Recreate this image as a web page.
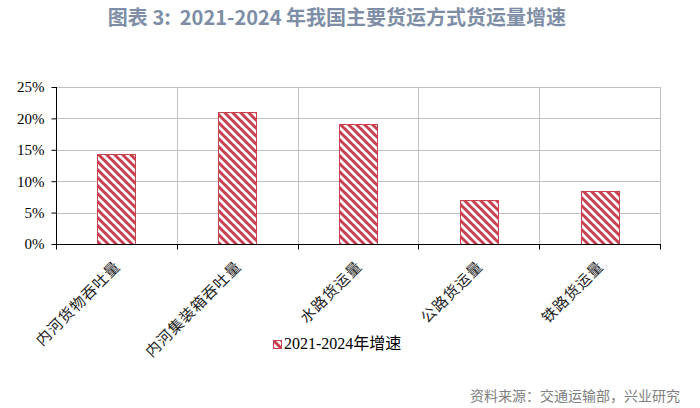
<!DOCTYPE html>
<html>
<head>
<meta charset="utf-8">
<script src="https://cdn.jsdelivr.net/npm/d3@7"></script>
<style>
  body { margin: 0; background: #fff; }
  svg { display: block; }
</style>
</head>
<body>
<div id="chart"></div>
<script>
const categories = ['内河货物吞吐量', '内河集装箱吞吐量', '水路货运量', '公路货运量', '铁路货运量'];
const growth = [0.144, 0.21, 0.191, 0.07, 0.084];
const yTicks = [0, 0.05, 0.1, 0.15, 0.2, 0.25];
const seriesName = '2021-2024年增速';

const width = 700;
const height = 408;
const margin = { left: 56, right: 40, top: 87, bottom: 164 };
const red = '#c9404f';
const serif = '"Liberation Serif", "Noto Sans CJK SC", serif';
const cjk = '"Noto Sans CJK SC", sans-serif';

const svg = d3
  .select('#chart')
  .append('svg')
  .attr('width', width)
  .attr('height', height);

// hatch pattern, like Excel's wide downward diagonal
const defs = svg.append('defs');
const pat = defs
  .append('pattern')
  .attr('id', 'hatch')
  .attr('patternUnits', 'userSpaceOnUse')
  .attr('width', 8)
  .attr('height', 8);
pat.append('rect').attr('width', 8).attr('height', 8).attr('fill', '#fff');
pat
  .append('path')
  .attr('d', 'M-2,-2 L10,10 M-6,2 L2,10 M6,-2 L10,2')
  .attr('stroke', red)
  .attr('stroke-width', 3);

const x = d3
  .scaleBand()
  .domain(categories)
  .range([margin.left, width - margin.right]);

const y = d3
  .scaleLinear()
  .domain([0, 0.25])
  .range([height - margin.bottom, margin.top]);

// horizontal grid
svg
  .append('g')
  .selectAll('line')
  .data(yTicks.slice(1))
  .enter()
  .append('line')
  .attr('x1', margin.left)
  .attr('x2', width - margin.right)
  .attr('y1', d => Math.round(y(d)) + 0.5)
  .attr('y2', d => Math.round(y(d)) + 0.5)
  .attr('stroke', '#c0c0c0')
  .attr('stroke-width', 1);

// vertical grid at category boundaries
svg
  .append('g')
  .selectAll('line')
  .data(categories)
  .enter()
  .append('line')
  .attr('x1', d => Math.round(x(d) + x.bandwidth()) + 0.5)
  .attr('x2', d => Math.round(x(d) + x.bandwidth()) + 0.5)
  .attr('y1', y(0.25))
  .attr('y2', y(0))
  .attr('stroke', '#c0c0c0')
  .attr('stroke-width', 1);

// bars
const barW = 38;
svg
  .append('g')
  .selectAll('rect')
  .data(growth)
  .enter()
  .append('rect')
  .attr('x', (d, i) => Math.round(x(categories[i]) + x.bandwidth() / 2 - barW / 2) + 0.5)
  .attr('y', d => Math.round(y(d)) + 0.5)
  .attr('width', barW)
  .attr('height', d => Math.round(y(0)) - Math.round(y(d)))
  .attr('fill', 'url(#hatch)')
  .attr('stroke', red)
  .attr('stroke-width', 1);

// y axis
const yAxis = svg
  .append('g')
  .attr('transform', 'translate(' + (margin.left + 0.5) + ',0)')
  .call(
    d3
      .axisLeft(y)
      .tickValues(yTicks)
      .tickFormat(d3.format('.0%'))
      .tickSize(5)
      .tickPadding(7)
  );
yAxis.select('.domain').attr('stroke', '#000').attr('d', 'M0,' + y(0.25) + 'V' + y(0));
yAxis.selectAll('.tick line').attr('stroke', '#000');
yAxis
  .selectAll('.tick text')
  .attr('fill', '#000')
  .style('font-family', serif)
  .style('font-size', '15px');

// x axis
const xAxis = svg
  .append('g')
  .attr('transform', 'translate(0,' + (Math.round(y(0)) + 0.5) + ')');
xAxis
  .append('line')
  .attr('x1', margin.left)
  .attr('x2', width - margin.right + 1)
  .attr('stroke', '#000');
xAxis
  .selectAll('line.tk')
  .data([margin.left].concat(categories.map(c => x(c) + x.bandwidth())))
  .enter()
  .append('line')
  .attr('class', 'tk')
  .attr('x1', d => Math.round(d) + 0.5)
  .attr('x2', d => Math.round(d) + 0.5)
  .attr('y1', 0)
  .attr('y2', 5)
  .attr('stroke', '#000');
xAxis
  .selectAll('text')
  .data(categories)
  .enter()
  .append('text')
  .text(d => d)
  .attr('text-anchor', 'end')
  .attr('transform', d => 'translate(' + (x(d) + x.bandwidth() / 2 + 5) + ',23) rotate(-45)')
  .attr('fill', '#222')
  .style('font-family', cjk)
  .style('font-size', '15px')
  .style('letter-spacing', '1px');

// legend
const legend = svg.append('g').attr('transform', 'translate(273,340)');
legend
  .append('rect')
  .attr('x', 0.5)
  .attr('y', 0.5)
  .attr('width', 8)
  .attr('height', 8)
  .attr('fill', 'url(#hatch)')
  .attr('stroke', red);
legend
  .append('text')
  .text(seriesName)
  .attr('x', 11)
  .attr('y', 9)
  .attr('fill', '#000')
  .style('font-family', serif)
  .style('font-size', '16px');

// title
svg
  .append('text')
  .text('图表 3:  2021-2024 年我国主要货运方式货运量增速')
  .attr('x', 337)
  .attr('y', 25)
  .attr('text-anchor', 'middle')
  .attr('fill', '#7d8ea6')
  .style('white-space', 'pre')
  .style('font-family', cjk)
  .style('font-size', '20px')
  .style('font-weight', 'bold');

// source
svg
  .append('text')
  .text('资料来源：交通运输部，兴业研究')
  .attr('x', 680)
  .attr('y', 401)
  .attr('text-anchor', 'end')
  .attr('fill', '#808080')
  .style('font-family', cjk)
  .style('font-size', '14px');
</script>
</body>
</html>
